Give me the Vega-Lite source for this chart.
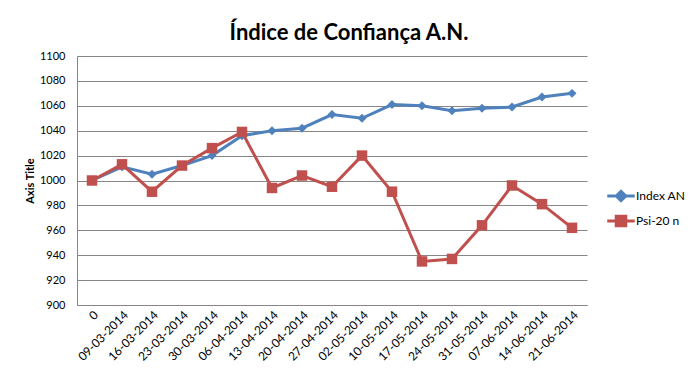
{
  "$schema": "https://vega.github.io/schema/vega-lite/v6.json",
  "width": 510,
  "height": 249,
  "autosize": {"type": "none"},
  "padding": {"left": 77, "top": 56, "right": 112, "bottom": 74},
  "background": "white",
  "title": {
    "text": "Índice de Confiança A.N.",
    "font": "Lato",
    "fontSize": 22,
    "fontWeight": "bold",
    "color": "#000000",
    "anchor": "middle",
    "dx": 17,
    "offset": 5
  },
  "config": {
    "view": {"stroke": null},
    "font": "Lato"
  },
  "data": {
    "values": [
      {"date": "0", "series": "Index AN", "value": 1000},
      {"date": "09-03-2014", "series": "Index AN", "value": 1011},
      {"date": "16-03-2014", "series": "Index AN", "value": 1005},
      {"date": "23-03-2014", "series": "Index AN", "value": 1012},
      {"date": "30-03-2014", "series": "Index AN", "value": 1020},
      {"date": "06-04-2014", "series": "Index AN", "value": 1036},
      {"date": "13-04-2014", "series": "Index AN", "value": 1040},
      {"date": "20-04-2014", "series": "Index AN", "value": 1042},
      {"date": "27-04-2014", "series": "Index AN", "value": 1053},
      {"date": "02-05-2014", "series": "Index AN", "value": 1050},
      {"date": "10-05-2014", "series": "Index AN", "value": 1061},
      {"date": "17-05-2014", "series": "Index AN", "value": 1060},
      {"date": "24-05-2014", "series": "Index AN", "value": 1056},
      {"date": "31-05-2014", "series": "Index AN", "value": 1058},
      {"date": "07-06-2014", "series": "Index AN", "value": 1059},
      {"date": "14-06-2014", "series": "Index AN", "value": 1067},
      {"date": "21-06-2014", "series": "Index AN", "value": 1070},
      {"date": "0", "series": "Psi-20 n", "value": 1000},
      {"date": "09-03-2014", "series": "Psi-20 n", "value": 1013},
      {"date": "16-03-2014", "series": "Psi-20 n", "value": 991},
      {"date": "23-03-2014", "series": "Psi-20 n", "value": 1012},
      {"date": "30-03-2014", "series": "Psi-20 n", "value": 1026},
      {"date": "06-04-2014", "series": "Psi-20 n", "value": 1039},
      {"date": "13-04-2014", "series": "Psi-20 n", "value": 994},
      {"date": "20-04-2014", "series": "Psi-20 n", "value": 1004},
      {"date": "27-04-2014", "series": "Psi-20 n", "value": 995},
      {"date": "02-05-2014", "series": "Psi-20 n", "value": 1020},
      {"date": "10-05-2014", "series": "Psi-20 n", "value": 991},
      {"date": "17-05-2014", "series": "Psi-20 n", "value": 935},
      {"date": "24-05-2014", "series": "Psi-20 n", "value": 937},
      {"date": "31-05-2014", "series": "Psi-20 n", "value": 964},
      {"date": "07-06-2014", "series": "Psi-20 n", "value": 996},
      {"date": "14-06-2014", "series": "Psi-20 n", "value": 981},
      {"date": "21-06-2014", "series": "Psi-20 n", "value": 962}
    ]
  },
  "encoding": {
    "x": {
      "field": "date",
      "type": "ordinal",
      "sort": null,
      "scale": {"type": "point", "padding": 0.5},
      "axis": {
        "title": null,
        "labelAngle": -45,
        "labelAlign": "right",
        "labelBaseline": "top",
        "labelFont": "Lato",
        "labelFontSize": 12,
        "labelColor": "#000000",
        "labelPadding": 4,
        "ticks": false,
        "domainColor": "#868686",
        "domainWidth": 1,
        "grid": false
      }
    },
    "y": {
      "field": "value",
      "type": "quantitative",
      "scale": {"domain": [900, 1100], "nice": false, "zero": false},
      "axis": {
        "title": "Axis Title",
        "titleFont": "Lato",
        "titleFontSize": 11,
        "titleFontWeight": "bold",
        "titleColor": "#000000",
        "titlePadding": 4,
        "format": "d",
        "values": [900, 920, 940, 960, 980, 1000, 1020, 1040, 1060, 1080, 1100],
        "labelFont": "Lato",
        "labelFontSize": 11,
        "labelColor": "#000000",
        "labelPadding": 12,
        "ticks": false,
        "domainColor": "#868686",
        "grid": true,
        "gridColor": "#868686",
        "gridWidth": 1
      }
    },
    "color": {
      "field": "series",
      "type": "nominal",
      "scale": {"domain": ["Index AN", "Psi-20 n"], "range": ["#4F81BD", "#C0504D"]},
      "legend": {
        "title": null,
        "orient": "none",
        "legendX": 530,
        "legendY": 126,
        "labelFont": "Lato",
        "labelFontSize": 12,
        "labelColor": "#000000",
        "labelOffset": 1,
        "rowPadding": 0,
        "symbolSize": 625,
        "symbolStrokeWidth": 3,
        "encode": {
          "symbols": {
            "update": {
              "shape": {"signal": "datum.value === 'Index AN' ? 'M-1.1,0H1.1M-0.38,0L0,-0.38L0.38,0L0,0.38Z' : 'M-1.1,0H1.1M-0.38,-0.38H0.38V0.38H-0.38Z'"},
              "stroke": {"scale": "color", "field": "value"},
              "fill": {"scale": "color", "field": "value"},
              "strokeWidth": {"value": 3},
              "size": {"value": 625},
              "opacity": {"value": 1}
            }
          }
        }
      }
    }
  },
  "layer": [
    {
      "mark": {"type": "line", "strokeWidth": 3}
    },
    {
      "transform": [{"filter": "datum.series === 'Index AN'"}],
      "mark": {"type": "point", "filled": true, "opacity": 1, "shape": "diamond", "size": 80}
    },
    {
      "transform": [{"filter": "datum.series === 'Psi-20 n'"}],
      "mark": {"type": "point", "filled": true, "opacity": 1, "shape": "square", "size": 110}
    }
  ]
}
